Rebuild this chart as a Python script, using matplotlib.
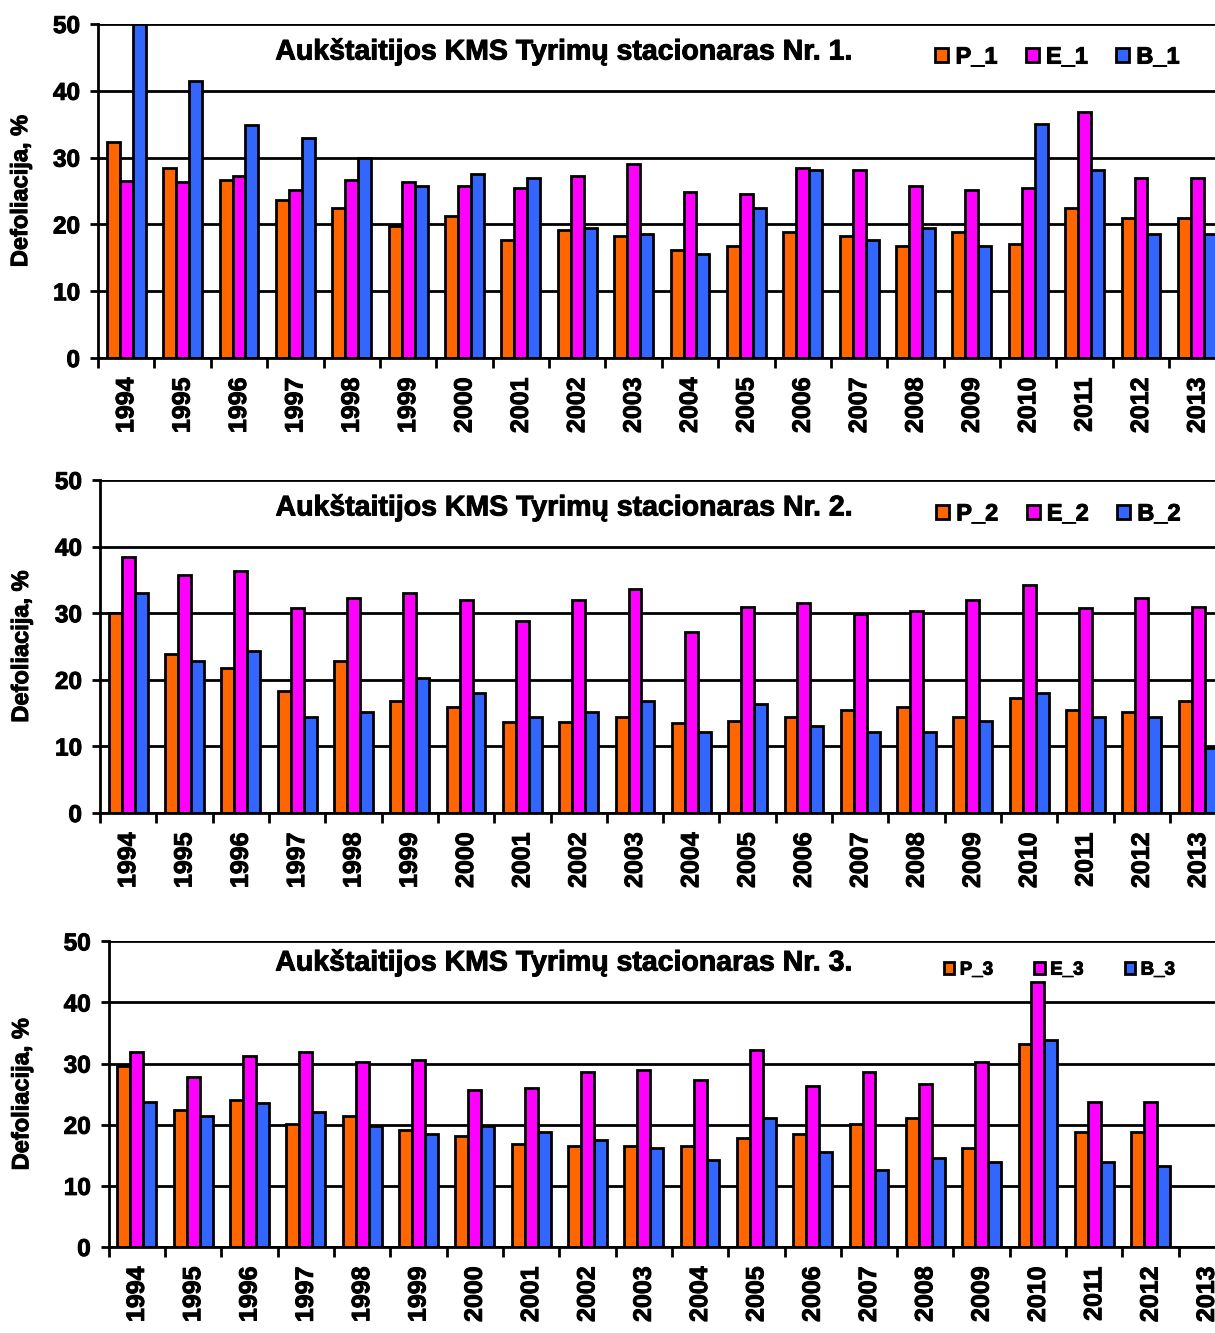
import matplotlib
import matplotlib.pyplot as plt
import matplotlib.patheffects as pe
import numpy as np

# DATA (DEFOLIATION, %)
years = [str(y) for y in range(1994, 2014)]

p_1 = [32.3, 28.4, 26.6, 23.6, 22.4, 19.7, 21.2, 17.7, 19.2, 18.3,
       16.2, 16.8, 18.9, 18.3, 16.8, 18.9, 17.1, 22.4, 20.9, 20.9]
e_1 = [26.5, 26.3, 27.2, 25.1, 26.6, 26.3, 25.7, 25.4, 27.2, 29.0,
       24.8, 24.6, 28.4, 28.1, 25.7, 25.1, 25.4, 36.8, 26.9, 26.9]
b_1 = [50.0, 41.5, 34.9, 32.9, 29.9, 25.7, 27.5, 26.9, 19.4, 18.6,
       15.6, 22.4, 28.1, 17.7, 19.5, 16.8, 35.0, 28.1, 18.6, 18.6]

p_2 = [30.0, 23.8, 21.8, 18.3, 22.8, 16.8, 15.9, 13.7, 13.7, 14.4,
       13.5, 13.8, 14.4, 15.5, 15.9, 14.4, 17.3, 15.5, 15.1, 16.8]
e_2 = [38.4, 35.8, 36.3, 30.8, 32.3, 33.1, 32.0, 28.8, 32.0, 33.6,
       27.2, 31.0, 31.5, 29.9, 30.3, 32.0, 34.3, 30.8, 32.3, 31.0]
b_2 = [33.1, 22.8, 24.3, 14.4, 15.1, 20.3, 18.0, 14.4, 15.1, 16.8,
       12.2, 16.3, 13.0, 12.2, 12.2, 13.8, 18.0, 14.4, 14.4, 9.7]

p_3 = [29.6, 22.4, 24.1, 20.1, 21.5, 19.2, 18.2, 16.9, 16.5, 16.5,
       16.5, 17.8, 18.5, 20.1, 21.1, 16.2, 33.2, 18.8, 18.8, np.nan]
e_3 = [31.9, 27.8, 31.2, 31.9, 30.3, 30.6, 25.7, 26.0, 28.7, 29.0,
       27.3, 32.3, 26.4, 28.7, 26.7, 30.3, 43.4, 23.7, 23.7, np.nan]
b_3 = [23.7, 21.5, 23.5, 22.1, 19.8, 18.5, 19.8, 18.8, 17.5, 16.2,
       14.2, 21.1, 15.6, 12.6, 14.6, 13.9, 33.9, 13.9, 13.3, np.nan]

colors = ['#FF6600', '#FF00FF', '#3366FF']

########################################################################################################################
# PLOTTING
########################################################################################################################
plt.rcParams['font.family'] = ['Liberation Sans', 'DejaVu Sans']
plt.rcParams['font.weight'] = 'bold'
fig = plt.figure(figsize=(12.15, 13.33), dpi=100)
heavy = [pe.withStroke(linewidth=0.7, foreground='black')]  # text in the original looks heavier

# panel rectangles in figure fractions: left, bottom, width, height
rects = [[0.0807, 0.7314, 0.928, 0.2506],
         [0.0823, 0.3901, 0.927, 0.2498],
         [0.0895, 0.0645, 0.927, 0.2293]]
panels = [(p_1, e_1, b_1, '1'), (p_2, e_2, b_2, '2'), (p_3, e_3, b_3, '3')]
title_xy = [(0.413, 0.916), (0.412, 0.916), (0.404, 0.929)]
legend_xy = [(0.851, 0.901), (0.851, 0.898), (0.844, 0.906)]
ylabel_x = [-0.0585, -0.0595, -0.067]

x = np.arange(len(years)) + 0.5
width = 0.23

for k, (p, e, b, nr) in enumerate(panels):
    ax = fig.add_axes(rects[k])
    ax.bar(x - width, p, width, color=colors[0], edgecolor='black', linewidth=2.0, label='P_' + nr)
    ax.bar(x, e, width, color=colors[1], edgecolor='black', linewidth=2.0, label='E_' + nr)
    ax.bar(x + width, b, width, color=colors[2], edgecolor='black', linewidth=2.0, label='B_' + nr)
    ax.set_xlim(0, len(years))
    ax.set_ylim(0, 50)
    ax.set_yticks(range(0, 51, 10))
    ax.set_xticks(np.arange(len(years) + 1))
    ax.set_xticklabels([])
    ax.set_xticks(x, minor=True)
    ax.set_xticklabels(years, minor=True, rotation=90, fontsize=18, fontweight='bold')
    ax.tick_params(axis='x', which='major', direction='out', length=7, width=2.0)
    ax.tick_params(axis='x', which='minor', length=0, pad=14)
    ax.tick_params(axis='y', direction='out', length=6, width=2.0, labelsize=17.5, pad=7)
    for t in ax.get_xticklabels(minor=True) + ax.get_yticklabels():
        t.set_path_effects(heavy)
    ax.yaxis.grid(True, color='black', linewidth=2.0)
    ax.set_axisbelow(True)
    for s in ['top', 'right']:
        ax.spines[s].set_visible(False)
    for s in ['left', 'bottom']:
        ax.spines[s].set_linewidth(2.0)
    ax.set_ylabel('Defoliacija, %', fontsize=17, fontweight='bold', path_effects=heavy)
    ax.yaxis.set_label_coords(ylabel_x[k], 0.5)
    ax.text(title_xy[k][0], title_xy[k][1], 'Aukštaitijos KMS Tyrimų stacionaras Nr. %s.' % nr,
            transform=ax.transAxes, ha='center', va='center', fontsize=20.5, fontweight='bold',
            path_effects=heavy)
    fs = 17 if k < 2 else 13.5
    leg = ax.legend(loc='center', bbox_to_anchor=legend_xy[k], ncol=3, frameon=False,
                    fontsize=fs, handlelength=0.55, handleheight=0.55, handletextpad=0.3,
                    columnspacing=1.2 if k < 2 else 2.2, borderpad=0)
    for t in leg.get_texts():
        t.set_path_effects(heavy)

plt.savefig('out.png', dpi=100)
